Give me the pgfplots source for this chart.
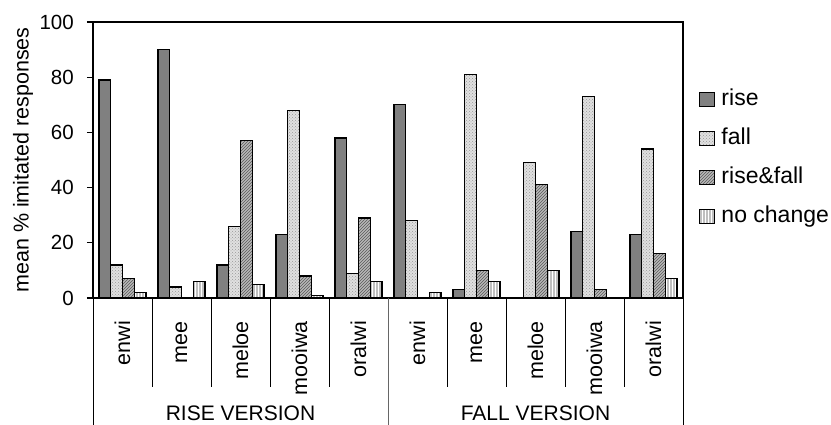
\documentclass[border=0pt]{standalone}
\usepackage{pgfplots}
\pgfplotsset{compat=1.18}
\usepackage{fontspec}
\setmainfont{Liberation Sans}
\usetikzlibrary{patterns}
\begin{document}
\fontsize{21}{25}\selectfont
\begin{tikzpicture}
\begin{axis}[
 scale only axis, width=590pt, height=276pt,
 xmin=-0.5, xmax=9.5, ymin=0, ymax=100,
 ytick={0,20,...,100},
 xtick={0,...,9},
 xticklabels={enwi,mee,meloe,mooiwa,oralwi,enwi,mee,meloe,mooiwa,oralwi},
 x tick label style={rotate=90, anchor=east, inner sep=0pt, font=\fontsize{21.5}{25}\selectfont},
 y tick label style={font=\fontsize{20.5}{25}\selectfont, xshift=-6pt},
 xticklabel shift=17pt,
 x tick style={draw=none},
 tick align=outside, ytick pos=left, major tick length=6pt,
 y tick style={line width=1.2pt, black},
 axis line style={line width=1.3pt},
 /pgf/number format/assume math mode=true,
 clip=false,
 ybar, bar width=0.2,
 ylabel={mean \% imitated responses},
 ylabel style={at={(axis description cs:-0.1186,0.5)}, anchor=center, font=\fontsize{21.5}{25}\selectfont},
 legend style={at={(axis description cs:1,0.507)}, anchor=west, xshift=13pt,
   draw=none, fill=none, font=\fontsize{23}{27}\selectfont, row sep=17pt, column sep=6pt,
   nodes={inner sep=0pt, text height=17pt, text depth=5pt}},
 legend cell align=left,
 legend image code/.code={\draw[#1, line width=1.3pt] (0pt,-7pt) rectangle (15pt,7pt);},
]
\addplot[fill=black!50, draw=black, line width=1.3pt, bar shift=-0.3]
 coordinates {(0,79)(1,90)(2,12)(3,23)(4,58)(5,70)(6,3)(8,24)(9,23)};
\addlegendentry{rise}
\addplot[fill=black!12, draw=black, line width=1.3pt, bar shift=-0.1,
  postaction={pattern=crosshatch dots, pattern color=black!40}]
 coordinates {(0,12)(1,4)(2,26)(3,68)(4,9)(5,28)(6,81)(7,49)(8,73)(9,54)};
\addlegendentry{fall}
\addplot[fill=black!28, draw=black, line width=1.3pt, bar shift=0.1,
  postaction={pattern=north east lines, pattern color=black!65}]
 coordinates {(0,7)(2,57)(3,8)(4,29)(6,10)(7,41)(8,3)(9,16)};
\addlegendentry{rise\&fall}
\addplot[fill=black!25, draw=black, line width=1.3pt, bar shift=0.3,
  postaction={pattern=vertical lines, pattern color=white}]
 coordinates {(0,2)(1,6)(2,5)(3,1)(4,6)(5,2)(6,6)(7,10)(9,7)};
\addlegendentry{no change}
\pgfplotsinvokeforeach{0.5,1.5,2.5,3.5,5.5,6.5,7.5,8.5}{
  \draw[black, line width=0.9pt] (axis cs:#1,0) -- ++(0pt,-89pt);
}
\draw[black, line width=0.9pt] (axis cs:-0.5,0) -- ++(0pt,-127pt);
\draw[black!60, line width=0.9pt] (axis cs:4.5,0) -- ++(0pt,-127pt);
\draw[black, line width=0.9pt] (axis cs:9.5,0) -- ++(0pt,-127pt);
\node[anchor=base, inner sep=0pt] at (axis cs:2,0) [yshift=-123pt] {RISE VERSION};
\node[anchor=base, inner sep=0pt] at (axis cs:7,0) [yshift=-123pt] {FALL VERSION};
\end{axis}
\pgfresetboundingbox
\useasboundingbox (-93pt,-127pt) rectangle (738pt,298pt);
\end{tikzpicture}
\end{document}
